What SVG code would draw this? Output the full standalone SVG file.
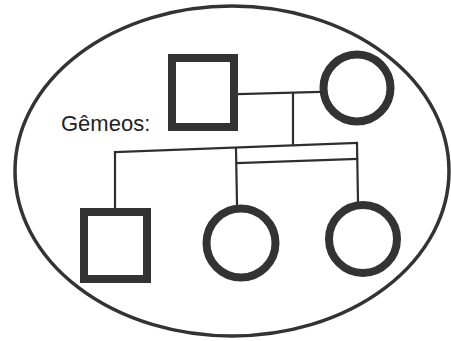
<svg xmlns="http://www.w3.org/2000/svg" width="451" height="341" viewBox="0 0 451 341">
<style>
.line{fill:none;stroke:#2e2e2e;stroke-width:2.2;stroke-linecap:square}
.sym{fill:#fff;stroke:#333;stroke-width:8}
.label{font-family:"Liberation Sans",Arial,sans-serif;font-size:22px;fill:#222}
</style>
<rect width="451" height="341" fill="#fff"/>
<ellipse id="border" cx="232" cy="171" rx="217" ry="165" fill="none" stroke="#333" stroke-width="3.5"/>
<g id="connectors">
<path class="line" d="M238 94 L320 92"/>
<path class="line" d="M293 93 L293 144"/>
<path class="line" d="M115 152 L357 143"/>
<path class="line" d="M115 152 L115 208"/>
<path class="line" d="M236 149 L237 204"/>
<path class="line" d="M357 143 L358 201"/>
<path class="line" d="M237 163 L357 159"/>
</g>
<g id="label"><text class="label" x="61" y="131">Gêmeos:</text></g>
<g id="father"><rect class="sym" x="172" y="58" width="62" height="69"/></g>
<g id="mother"><circle class="sym" cx="357" cy="88" r="33.5"/></g>
<g id="son"><rect class="sym" x="84" y="212" width="63" height="67"/></g>
<g id="daughter1"><circle class="sym" cx="241" cy="243" r="34.5"/></g>
<g id="daughter2"><circle class="sym" cx="363" cy="239" r="34"/></g>
</svg>
